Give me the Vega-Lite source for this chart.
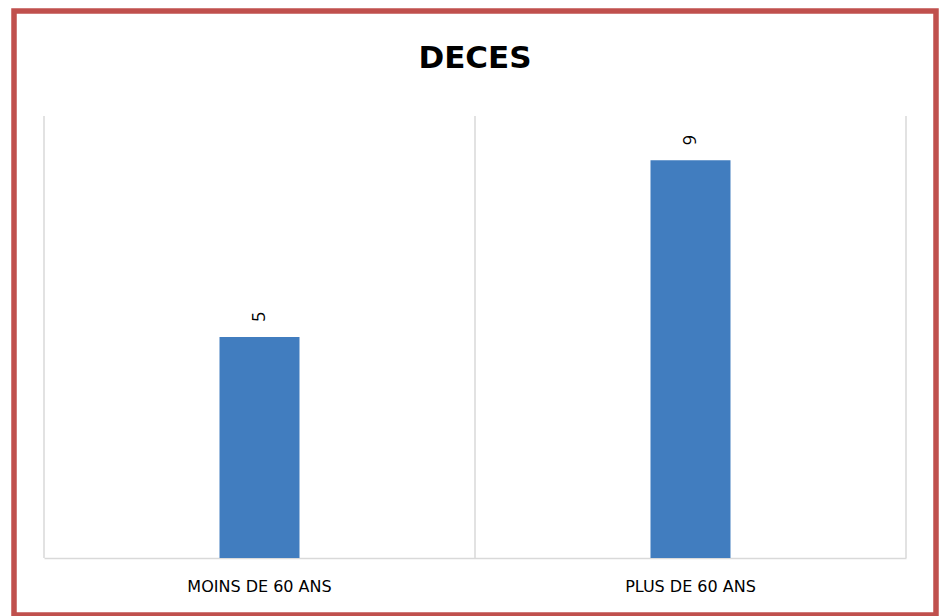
{
  "$schema": "https://vega.github.io/schema/vega-lite/v6.json",
  "autosize": {"type": "none"},
  "width": 922,
  "height": 604,
  "padding": {"left": 14, "top": 11, "right": 9, "bottom": 1},
  "background": "white",
  "config": {
    "view": {"stroke": "#C0504D", "strokeWidth": 5.5, "fill": "white"},
    "font": "DejaVu Sans"
  },
  "title": {
    "text": "DECES",
    "anchor": "middle",
    "offset": -79,
    "baseline": "middle",
    "fontSize": 31,
    "fontWeight": "bold",
    "color": "#000000",
    "font": "DejaVu Sans"
  },
  "data": {
    "values": [
      {"categorie": "MOINS DE 60 ANS", "deces": 5},
      {"categorie": "PLUS DE 60 ANS", "deces": 9}
    ]
  },
  "layer": [
    {
      "mark": {"type": "bar", "color": "#417DBF", "width": {"band": 0.1856}},
      "encoding": {
        "x": {
          "field": "categorie",
          "type": "nominal",
          "sort": null,
          "scale": {"range": [30, 892], "paddingInner": 0, "paddingOuter": 0},
          "axis": {
            "title": null,
            "orient": "bottom",
            "offset": -57,
            "ticks": false,
            "grid": false,
            "domainColor": "#D9D9D9",
            "domainWidth": 1.5,
            "labelAngle": 0,
            "labelPadding": 28,
            "labelBaseline": "middle",
            "labelFontSize": 16,
            "labelFont": "DejaVu Sans",
            "labelColor": "#000000"
          }
        },
        "y": {
          "field": "deces",
          "type": "quantitative",
          "scale": {"domain": [0, 10], "range": [547, 105], "nice": false, "zero": true},
          "axis": null
        }
      }
    },
    {
      "mark": {"type": "rule", "color": "#D9D9D9", "strokeWidth": 1.5},
      "encoding": {
        "x": {"field": "categorie", "type": "nominal", "sort": null, "bandPosition": 0},
        "y": {"datum": 0},
        "y2": {"datum": 10}
      }
    },
    {
      "transform": [{"filter": "datum.categorie === 'PLUS DE 60 ANS'"}],
      "mark": {"type": "rule", "color": "#D9D9D9", "strokeWidth": 1.5},
      "encoding": {
        "x": {"field": "categorie", "type": "nominal", "sort": null, "bandPosition": 1},
        "y": {"datum": 0},
        "y2": {"datum": 10}
      }
    },
    {
      "mark": {
        "type": "text",
        "angle": 270,
        "align": "left",
        "baseline": "middle",
        "dx": 15,
        "fontSize": 18,
        "font": "Open Sans",
        "color": "#000000"
      },
      "encoding": {
        "x": {"field": "categorie", "type": "nominal", "sort": null},
        "y": {"field": "deces", "type": "quantitative"},
        "text": {"field": "deces", "type": "quantitative"}
      }
    }
  ]
}
